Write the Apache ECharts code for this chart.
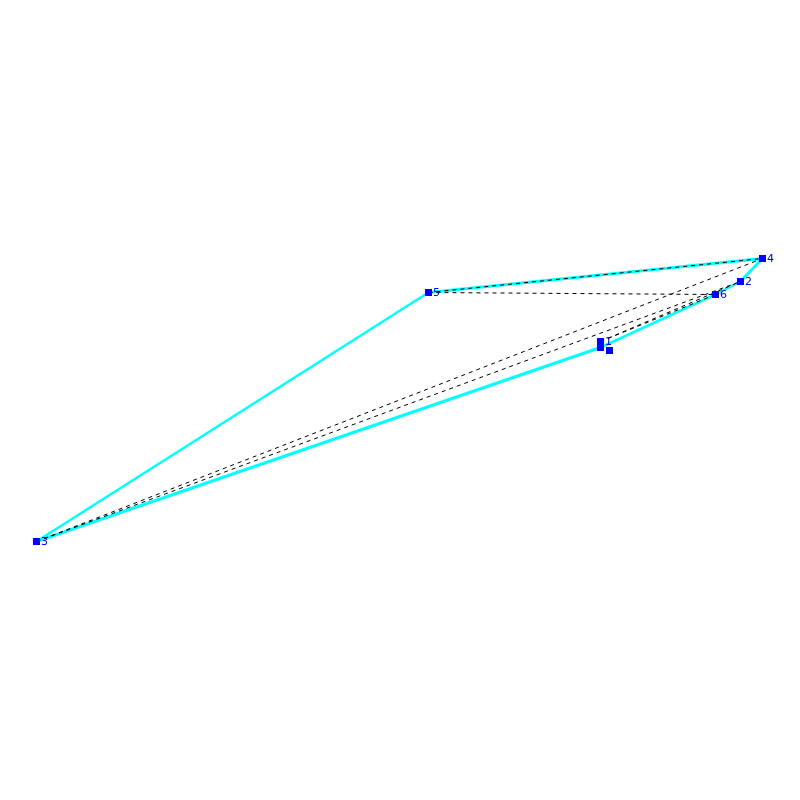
<!DOCTYPE html>
<html>
<head>
<meta charset="utf-8">
<style>
    html, body { margin: 0; padding: 0; background: #fff; }
    #main { width: 800px; height: 800px; }
</style>
<script src="https://cdn.jsdelivr.net/npm/echarts@6/dist/echarts.min.js"></script>
</head>
<body>
<div id="main"></div>
<script>
    // nodes. the last two have no label
    const nodeLabels = ['1', '2', '3', '4', '5', '6', '', ''];
    const nodeX = [600.5, 740.5, 36.5, 762.5, 428.5, 715.5, 600.5, 609.5];
    const nodeY = [341.5, 281.5, 541.5, 258.5, 292.5, 294.5, 347.5, 350.5];

    // edges as pairs of node indexes
    const thickEdges = [[4, 3], [2, 6], [3, 1]];
    const thinEdges = [[4, 2], [6, 5], [5, 1]];
    const dashedEdges = [[2, 3], [2, 1], [0, 5], [0, 1], [4, 3], [4, 5]];

    const toLinks = function (edges, lineStyle) {
        return edges.map(function (e) {
            return { source: e[0], target: e[1], lineStyle: lineStyle };
        });
    };

    const myChart = echarts.init(document.getElementById('main'));
    myChart.setOption({
        backgroundColor: '#fff',
        animation: false,
        grid: { left: 0, right: 0, top: 0, bottom: 0 },
        xAxis: { type: 'value', min: 0, max: 800, show: false },
        yAxis: { type: 'value', min: 0, max: 800, inverse: true, show: false },
        series: [{
            type: 'graph',
            coordinateSystem: 'cartesian2d',
            symbol: 'rect',
            symbolSize: 7,
            silent: true,
            itemStyle: { color: '#0000ff', opacity: 1 },
            label: {
                show: true,
                position: 'right',
                distance: 1,
                offset: [0, 1],
                color: '#0000ff',
                fontFamily: 'DejaVu Sans',
                fontSize: 11,
                formatter: function (p) { return p.data.label_; }
            },
            data: nodeLabels.map(function (name, i) {
                return { name: 'n' + i, label_: name, value: [nodeX[i], nodeY[i]] };
            }),
            links: toLinks(thickEdges, { color: '#00ffff', width: 3, opacity: 1, curveness: 0 })
                .concat(toLinks(thinEdges, { color: '#00ffff', width: 2.5, opacity: 1, curveness: 0 }))
                .concat(toLinks(dashedEdges, { color: '#000000', width: 1, type: [4, 4], opacity: 1, curveness: 0 }))
        }]
    });
</script>
</body>
</html>
